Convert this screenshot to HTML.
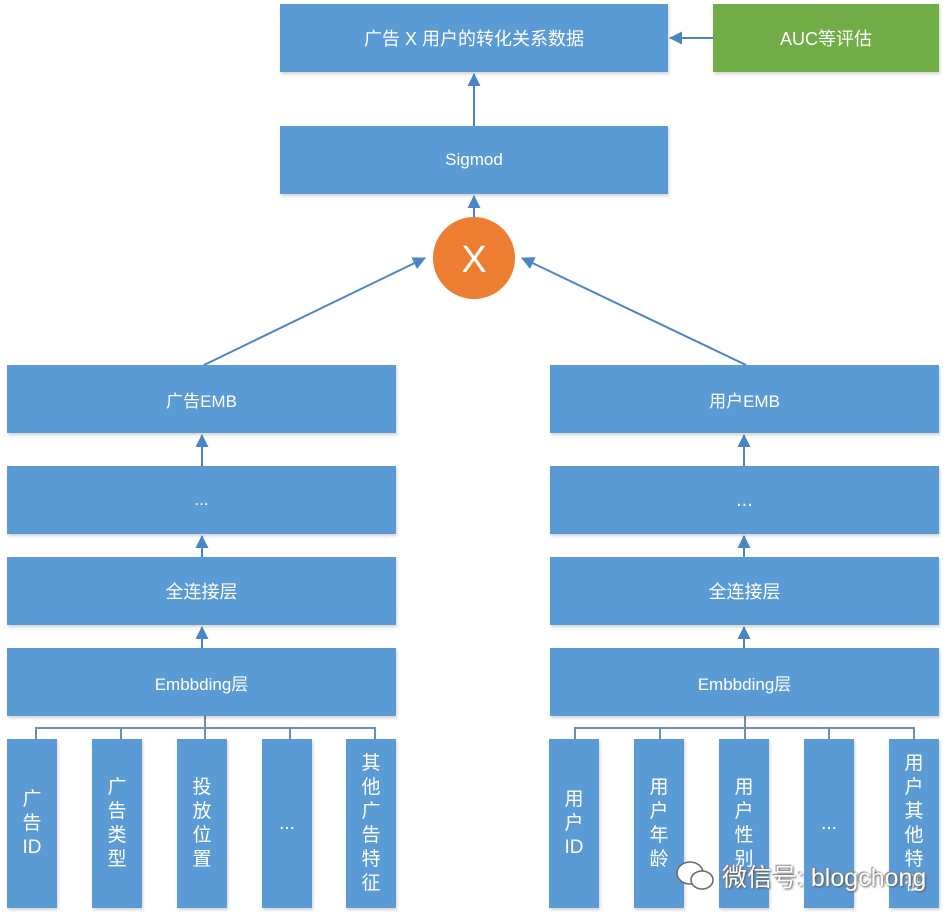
<!DOCTYPE html>
<html><head><meta charset="utf-8"><style>
body{margin:0;width:948px;height:920px;background:#fff;position:relative;overflow:hidden;font-family:"Liberation Sans","Noto Sans CJK SC",sans-serif;}
.b{position:absolute;background:#5b9bd5;color:#fff;display:flex;align-items:center;justify-content:center;font-size:17px;box-shadow:1px 2px 3px rgba(0,0,0,0.18);}
.v{position:absolute;background:#5b9bd5;color:#fff;display:flex;align-items:center;justify-content:center;font-size:19px;line-height:24px;text-align:center;box-shadow:1px 2px 3px rgba(0,0,0,0.18);width:50px;top:739px;height:169px;}
.v span{display:block;width:20px;word-break:break-all;}
svg{position:absolute;left:0;top:0;}
.wm{position:absolute;left:722px;top:858px;font-size:25px;color:#fff;text-shadow:1px 1px 2px #555,-1px -1px 1px #888;font-family:"Liberation Sans","Noto Sans CJK SC",sans-serif;}
</style></head><body>
<svg width="948" height="920">
<defs><marker id="a" markerWidth="13" markerHeight="13" refX="12" refY="6.5" orient="auto" markerUnits="userSpaceOnUse"><path d="M0,0 L13,6.5 L0,13 z" fill="#4a86c5"/></marker></defs>
<g stroke="#4a86c5" stroke-width="2" fill="none">
<line x1="713" y1="38" x2="670" y2="38" marker-end="url(#a)"/>
<line x1="474" y1="126" x2="474" y2="74" marker-end="url(#a)"/>
<line x1="474" y1="217" x2="474" y2="196" marker-end="url(#a)"/>
<line x1="204" y1="365" x2="425" y2="258" marker-end="url(#a)"/>
<line x1="746" y1="365" x2="522" y2="258" marker-end="url(#a)"/>
<line x1="202" y1="466" x2="202" y2="435" marker-end="url(#a)"/>
<line x1="202" y1="557" x2="202" y2="536" marker-end="url(#a)"/>
<line x1="202" y1="648" x2="202" y2="627" marker-end="url(#a)"/>
<line x1="744" y1="466" x2="744" y2="435" marker-end="url(#a)"/>
<line x1="744" y1="557" x2="744" y2="536" marker-end="url(#a)"/>
<line x1="744" y1="648" x2="744" y2="627" marker-end="url(#a)"/>
</g>
<g stroke="#6b8fb0" stroke-width="2" fill="none">
<line x1="205" y1="716" x2="205" y2="739"/>
<polyline points="36,739 36,728 375,728 375,739"/>
<line x1="121" y1="728" x2="121" y2="739"/><line x1="290" y1="728" x2="290" y2="739"/>
<line x1="745" y1="716" x2="745" y2="739"/>
<polyline points="575,739 575,728 914,728 914,739"/>
<line x1="660" y1="728" x2="660" y2="739"/><line x1="829" y1="728" x2="829" y2="739"/>
</g>
<ellipse cx="474" cy="258" rx="41" ry="41" fill="#ed7d31"/>
<text x="474" y="272" fill="#fff" font-size="38" text-anchor="middle" font-family="Liberation Sans Narrow, Liberation Sans, sans-serif">X</text>
</svg>
<div class="b" style="left:280px;top:4px;width:388px;height:68px;font-size:18px">广告 X 用户的转化关系数据</div>
<div class="b" style="left:713px;top:4px;width:226px;height:68px;background:#70ad47;font-size:18px">AUC等评估</div>
<div class="b" style="left:280px;top:126px;width:388px;height:68px">Sigmod</div>
<div class="b" style="left:7px;top:365px;width:389px;height:68px">广告EMB</div>
<div class="b" style="left:7px;top:466px;width:389px;height:68px">...</div>
<div class="b" style="left:7px;top:557px;width:389px;height:68px;font-size:18px">全连接层</div>
<div class="b" style="left:7px;top:648px;width:389px;height:68px">Embbding层</div>
<div class="b" style="left:550px;top:365px;width:389px;height:68px">用户EMB</div>
<div class="b" style="left:550px;top:466px;width:389px;height:68px;font-size:20px">...</div>
<div class="b" style="left:550px;top:557px;width:389px;height:68px;font-size:18px">全连接层</div>
<div class="b" style="left:550px;top:648px;width:389px;height:68px">Embbding层</div>
<div class="v" style="left:7px"><span>广告ID</span></div>
<div class="v" style="left:92px"><span>广告类型</span></div>
<div class="v" style="left:177px"><span>投放位置</span></div>
<div class="v" style="left:262px"><span>...</span></div>
<div class="v" style="left:346px"><span>其他广告特征</span></div>
<div class="v" style="left:549px"><span>用户ID</span></div>
<div class="v" style="left:634px"><span>用户年龄</span></div>
<div class="v" style="left:719px"><span>用户性别</span></div>
<div class="v" style="left:804px"><span>...</span></div>
<div class="v" style="left:889px"><span>用户其他特征</span></div>
<svg width="948" height="920" style="pointer-events:none">
<g fill="#fff" stroke="#666" stroke-width="1.5">
<ellipse cx="690" cy="873" rx="13" ry="11"/>
<ellipse cx="702" cy="880" rx="11" ry="9"/>
</g>
</svg>
<div class="wm">微信号: blogchong</div>
</body></html>
